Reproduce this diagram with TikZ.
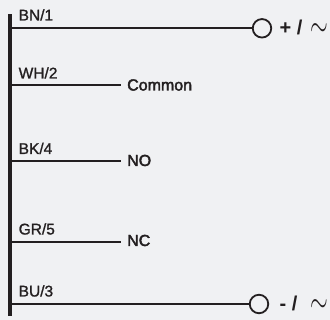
\documentclass[tikz,border=0pt]{standalone}
\usepackage{graphicx}
\usepackage{fontspec}
\setmainfont{Liberation Sans}
\newfontfamily\medfont[FakeBold=2.5]{Liberation Sans}
\newfontfamily\semifont[FakeBold=1.2]{Liberation Sans}
\definecolor{ink}{HTML}{231F20}
\definecolor{paper}{HTML}{F0F1F3}
\tikzset{
  x=1pt,y=-1pt,
  wire/.style={draw=ink,line width=1.7pt},
  lbl/.style={anchor=base west,inner sep=0pt,text=ink,font=\semifont\fontsize{15.5}{16}\selectfont},
  outlbl/.style={anchor=base west,inner sep=0pt,text=ink,font=\medfont\fontsize{16}{16}\selectfont},
  term/.style={circle,draw=ink,line width=1.8pt,minimum size=18.5pt,inner sep=0pt},
  sym/.style={anchor=base west,inner sep=0pt,text=ink,font=\fontsize{20}{20}\selectfont\bfseries},
  tld/.style={anchor=base west,inner sep=0pt,text=ink,font=\fontsize{20}{20}\selectfont}
}
\begin{document}
\begin{tikzpicture}
\useasboundingbox[fill=paper] (0,0) rectangle (330,320);
\fill[ink] (7.5,14.5) rectangle (12,316);
\coordinate (b1) at (12,28.3);
\coordinate (b2) at (12,85);
\coordinate (b3) at (12,161);
\coordinate (b4) at (12,242);
\coordinate (b5) at (12,304);
\coordinate (e2) at (121,85);
\coordinate (e3) at (121,161);
\coordinate (e4) at (121,242);
\node[term] (t1) at (262,28.3) {};
\node[term] (t2) at (259,304) {};
\draw[wire] (b1) -- (t1);
\draw[wire] (b2) -- (e2);
\draw[wire] (b3) -- (e3);
\draw[wire] (b4) -- (e4);
\draw[wire] (b5) -- (t2);
\node[lbl] (l1) at (18.5,20.5) {BN/1};
\node[lbl] (l2) at (18.5,78.5) {WH/2};
\node[lbl] (l3) at (18.5,154) {BK/4};
\node[lbl] (l4) at (18.5,234.5) {GR/5};
\node[lbl] (l5) at (18.5,296.5) {BU/3};
\node[outlbl] (o2) at (127,90.5) {Common};
\node[outlbl] (o3) at (127,166) {NO};
\node[outlbl] (o4) at (127,246) {NC};
\node[sym] (s1) at (279.5,35) {+ /};
\node[sym] (s2) at (279.5,311) {- /};
\node[tld] (w1) at (310.5,36.5) {\scalebox{1.1}[1.7]{$\sim$}};
\node[tld] (w2) at (310.5,312.5) {\scalebox{1.1}[1.7]{$\sim$}};
\end{tikzpicture}
\end{document}
